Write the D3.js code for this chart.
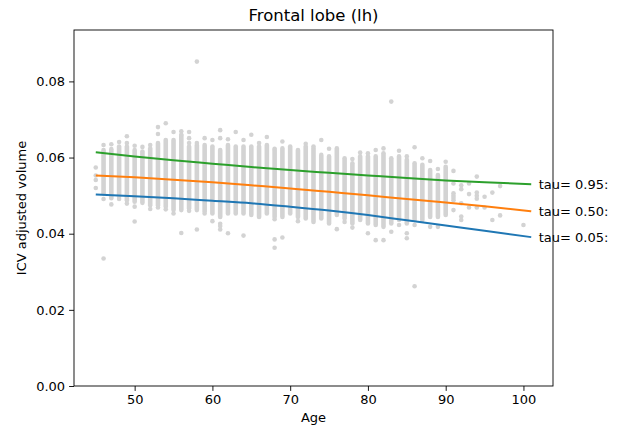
<!DOCTYPE html>
<html>
<head>
<meta charset="utf-8">
<script src="https://cdn.jsdelivr.net/npm/d3@7/dist/d3.min.js"></script>
<style>
  html, body { margin: 0; padding: 0; background: #fff; }
  svg { display: block; font-family: "DejaVu Sans", sans-serif; }
</style>
</head>
<body>
<svg id="chart" width="625" height="427"></svg>
<script>
// ---------- DATA ----------
const title = "Frontal lobe (lh)";
const xLabel = "Age";
const yLabel = "ICV adjusted volume";
const xTicks = [50, 60, 70, 80, 90, 100];
const yTicks = [0.00, 0.02, 0.04, 0.06, 0.08];

// dense columns of observations: age, upper and lower end of the packed dots
const colAges = [46,47,48,49,50,51,52,53,54,55,56,57,58,59,60,61,62,63,64,65,66,67,68,69,70,71,72,73,74,75,76,77,78,79,80,81,82,83,84,85,86,87,88,89,90];
const colHi   = [0.0620,0.0622,0.0629,0.0629,0.0620,0.0616,0.0624,0.0638,0.0646,0.0646,0.0658,0.0629,0.0633,0.0633,0.0629,0.0620,0.0633,0.0629,0.0629,0.0629,0.0629,0.0633,0.0620,0.0624,0.0629,0.0620,0.0629,0.0624,0.0607,0.0603,0.0624,0.0598,0.0585,0.0603,0.0603,0.0603,0.0611,0.0594,0.0603,0.0594,0.0585,0.0581,0.0567,0.0554,0.0576];
const colLo   = [0.0506,0.0493,0.0497,0.0488,0.0484,0.0481,0.0475,0.0475,0.0471,0.0462,0.0462,0.0467,0.0462,0.0458,0.0453,0.0444,0.0453,0.0453,0.0453,0.0449,0.0444,0.0453,0.0444,0.0444,0.0453,0.0444,0.0440,0.0431,0.0440,0.0427,0.0449,0.0440,0.0427,0.0436,0.0427,0.0423,0.0418,0.0427,0.0436,0.0427,0.0436,0.0436,0.0444,0.0444,0.0449];

// isolated observations
const ptAges = [45,45,45,45,
  46,46,46, 47,47, 48,48, 49,49,49, 50,50,50, 51, 52,52, 53,53,53, 54,54, 55,55,
  56,56,56, 57,57,57,57, 58,58,58, 59,59, 60,60, 61,61,61,61,61, 62,62, 63, 64,64, 65, 66, 67,
  68,68,68,68, 69,69, 71, 72, 73, 74, 75, 76, 77, 78,78, 79, 80,80, 81,81, 82,82, 83,83,83,
  84,84, 85,85,85, 86,86,86, 87, 88,88, 89,89, 90,
  91,91,91,91,91,91,91, 92,92,92,92,92, 93,93,93, 94,94,94,94,94, 95,95, 96,96, 97,97, 100];
const ptVols = [0.0574,0.0553,0.0541,0.0520,
  0.0633,0.0491,0.0335, 0.0635,0.0477, 0.0641,0.0491, 0.0656,0.0638,0.0479, 0.0631,0.0471,0.0432, 0.0628, 0.0633,0.0465, 0.0680,0.0662,0.0469, 0.0690,0.0464, 0.0667,0.0453,
  0.0669,0.0660,0.0402, 0.0667,0.0651,0.0638,0.0460, 0.0852,0.0638,0.0411, 0.0651,0.0453, 0.0646,0.0433, 0.0672,0.0651,0.0426,0.0420,0.0411, 0.0648,0.0401, 0.0667, 0.0646,0.0395, 0.0660, 0.0638, 0.0654,
  0.0623,0.0438,0.0385,0.0363, 0.0642,0.0390, 0.0433, 0.0636, 0.0629, 0.0646, 0.0623, 0.0412, 0.0431, 0.0596,0.0416, 0.0613, 0.0611,0.0401, 0.0620,0.0383, 0.0624,0.0383, 0.0747,0.0598,0.0405,
  0.0618,0.0423, 0.0603,0.0401,0.0388, 0.0627,0.0423,0.0262, 0.0598, 0.0591,0.0418, 0.0570,0.0418, 0.0589,
  0.0565,0.0532,0.0506,0.0500,0.0494,0.0488,0.0462, 0.0527,0.0517,0.0480,0.0445,0.0436, 0.0532,0.0504,0.0469, 0.0550,0.0508,0.0500,0.0492,0.0469,0.0469, 0.0497,0.0436, 0.0508,0.0448, 0.0525,0.0423, 0.0478];

// quantile regression fits
const fitAges = [45, 50, 55, 60, 65, 70, 75, 80, 85, 90, 95, 101];
const tau05 = [0.0503,0.04985,0.0493,0.04865,0.0480,0.0471,0.0461,0.0449,0.04352,0.04215,0.0408,0.0391];
const tau50 = [0.0553,0.0548,0.0542,0.0535,0.0527,0.0519,0.0510,0.0501,0.0491,0.0482,0.0472,0.0459];
const tau95 = [0.0614,0.0603,0.0593,0.0584,0.0575,0.0567,0.0560,0.0553,0.0546,0.0540,0.0535,0.0530];
const seriesNames = ["tau= 0.05:", "tau= 0.50:", "tau= 0.95:"];
const seriesVals = [tau05, tau50, tau95];
const seriesColors = ["#1f77b4", "#ff7f0e", "#2ca02c"];

// ---------- LAYOUT ----------
const svg = d3.select("#chart");
const L = 74, R = 553, T = 30, B = 386;
const x = d3.scaleLinear().domain([42.2, 103.8]).range([L, R]);
const y = d3.scaleLinear().domain([0, 0.0935]).range([B, T]);
const FONT = 13;

// scatter: dense columns
const ptColor = "#d3d3d3";
svg.append("g").selectAll("line").data(colAges).join("line")
  .attr("x1", d => x(d)).attr("x2", d => x(d))
  .attr("y1", (d, i) => y(colHi[i])).attr("y2", (d, i) => y(colLo[i]))
  .attr("stroke", ptColor).attr("stroke-width", 4.6).attr("stroke-linecap", "round");
svg.append("g").selectAll("circle").data(ptAges).join("circle")
  .attr("cx", d => x(d)).attr("cy", (d, i) => y(ptVols[i])).attr("r", 2.3)
  .attr("fill", ptColor);

// fit lines
const line = d3.line().x(d => x(d[0])).y(d => y(d[1])).curve(d3.curveMonotoneX);
seriesVals.forEach((vals, k) => {
  svg.append("path")
    .datum(fitAges.map((a, i) => [a, vals[i]]))
    .attr("d", line).attr("fill", "none")
    .attr("stroke", seriesColors[k]).attr("stroke-width", 2);
  svg.append("text")
    .attr("x", x(fitAges[fitAges.length - 1]) + 7.5)
    .attr("y", y(vals[vals.length - 1]))
    .attr("dy", "0.35em")
    .attr("font-size", FONT).attr("fill", "#000")
    .text(seriesNames[k]);
});

// axes
const xAxis = d3.axisBottom(x).tickValues(xTicks).tickSize(4.9).tickPadding(4).tickFormat(d3.format("d"));
const yAxis = d3.axisLeft(y).tickValues(yTicks).tickSize(4.9).tickPadding(4).tickFormat(d3.format(".2f"));
const gx = svg.append("g").attr("transform", `translate(0,${B})`).call(xAxis);
const gy = svg.append("g").attr("transform", `translate(${L},0)`).call(yAxis);
[gx, gy].forEach(g => {
  g.select(".domain").remove();
  g.selectAll("line").attr("stroke", "#000").attr("stroke-width", 0.9);
  g.selectAll("text").attr("font-size", FONT).attr("fill", "#000").attr("font-family", "DejaVu Sans");
});

// frame
svg.append("rect").attr("x", L).attr("y", T).attr("width", R - L).attr("height", B - T)
  .attr("fill", "none").attr("stroke", "#000").attr("stroke-width", 0.9);

// titles
svg.append("text").attr("x", (L + R) / 2).attr("y", 21).attr("text-anchor", "middle")
  .attr("font-size", 16.5).attr("fill", "#000").text(title);
svg.append("text").attr("x", (L + R) / 2).attr("y", 422).attr("text-anchor", "middle")
  .attr("font-size", FONT).attr("fill", "#000").text(xLabel);
svg.append("text").attr("transform", `translate(26,${(T + B) / 2}) rotate(-90)`)
  .attr("text-anchor", "middle").attr("font-size", FONT).attr("fill", "#000").text(yLabel);
</script>
</body>
</html>
